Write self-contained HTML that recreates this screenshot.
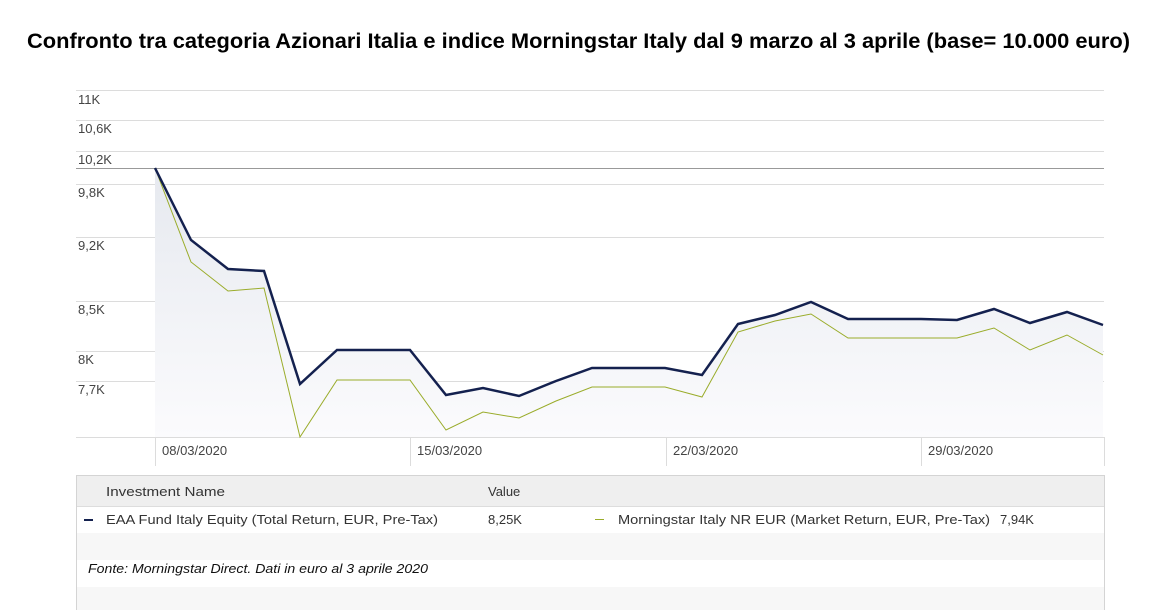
<!DOCTYPE html>
<html><head><meta charset="utf-8"><style>
body{margin:0;width:1155px;height:610px;background:#fff;overflow:hidden;font-family:"Liberation Sans",sans-serif}
</style></head><body>
<svg width="1155" height="610" xmlns="http://www.w3.org/2000/svg" style="position:absolute;left:0;top:0">
<defs><linearGradient id="g" x1="0" y1="0" x2="0" y2="1"><stop offset="0" stop-color="#e6e9ef"/><stop offset="1" stop-color="#fbfbfd"/></linearGradient></defs>
<text x="27" y="48" textLength="1103" lengthAdjust="spacingAndGlyphs" font-family="Liberation Sans, sans-serif" font-weight="bold" font-size="21" fill="#000">Confronto tra categoria Azionari Italia e indice Morningstar Italy dal 9 marzo al 3 aprile (base= 10.000 euro)</text>
<g stroke="#dcdcdc" stroke-width="1">
<line x1="76" x2="1104" y1="90.5" y2="90.5"/><line x1="76" x2="1104" y1="120.5" y2="120.5"/><line x1="76" x2="1104" y1="151.5" y2="151.5"/>
<line x1="76" x2="1104" y1="184.5" y2="184.5"/><line x1="76" x2="1104" y1="237.5" y2="237.5"/><line x1="76" x2="1104" y1="301.5" y2="301.5"/>
<line x1="76" x2="1104" y1="351.5" y2="351.5"/><line x1="76" x2="1104" y1="381.5" y2="381.5"/><line x1="76" x2="1104" y1="437.5" y2="437.5"/>
<line x1="155.5" x2="155.5" y1="437" y2="466"/><line x1="410.5" x2="410.5" y1="437" y2="466"/><line x1="666.5" x2="666.5" y1="437" y2="466"/><line x1="921.5" x2="921.5" y1="437" y2="466"/><line x1="1104.5" x2="1104.5" y1="437" y2="466"/>
</g>
<polygon fill="url(#g)" points="155,168 191,240 228,269 264,271 300,384 337,350 373,350 410,350 446,395 483,388 519,396 556,381 592,368 629,368 665,368 702,375 738,324 775,315 811,302 848,319 884,319 921,319 957,320 994,309 1030,323 1067,312 1103,325 1103,437 155,437"/>
<line x1="76" x2="1104" y1="168.5" y2="168.5" stroke="#999" stroke-width="1"/>
<g font-size="13" fill="#444" font-family="Liberation Sans, sans-serif">
<text x="78" y="104">11K</text><text x="78" y="133">10,6K</text><text x="78" y="164">10,2K</text><text x="78" y="197">9,8K</text><text x="78" y="250">9,2K</text><text x="78" y="314">8,5K</text><text x="78" y="364">8K</text><text x="78" y="394">7,7K</text>
<text x="162" y="455">08/03/2020</text><text x="417" y="455">15/03/2020</text><text x="673" y="455">22/03/2020</text><text x="928" y="455">29/03/2020</text>
</g>
<polyline fill="none" stroke="#9aac2a" stroke-width="1" points="155,168 191,262 228,291 264,288 300,437 337,380 373,380 410,380 446,430 483,412 519,418 556,401 592,387 629,387 665,387 702,397 738,332 775,321 811,314 848,338 884,338 921,338 957,338 994,328 1030,350 1067,335 1103,355"/>
<polyline fill="none" stroke="#14214f" stroke-width="2.5" points="155,168 191,240 228,269 264,271 300,384 337,350 373,350 410,350 446,395 483,388 519,396 556,381 592,368 629,368 665,368 702,375 738,324 775,315 811,302 848,319 884,319 921,319 957,320 994,309 1030,323 1067,312 1103,325"/>
<rect x="76.5" y="475.5" width="1028" height="140" fill="#fff" stroke="#d4d4d4"/>
<rect x="77" y="476" width="1027" height="30" fill="#efefef"/>
<line x1="77" x2="1104" y1="506.5" y2="506.5" stroke="#ddd"/>
<rect x="77" y="533" width="1027" height="27" fill="#f7f7f7"/>
<rect x="77" y="587" width="1027" height="23" fill="#f7f7f7"/>
<g font-size="13" fill="#333" font-family="Liberation Sans, sans-serif">
<text x="106" y="496" textLength="119" lengthAdjust="spacingAndGlyphs">Investment Name</text><text x="488" y="496">Value</text>
<text x="106" y="524" textLength="332" lengthAdjust="spacingAndGlyphs">EAA Fund Italy Equity (Total Return, EUR, Pre-Tax)</text><text x="488" y="524">8,25K</text>
<text x="618" y="524" textLength="372" lengthAdjust="spacingAndGlyphs">Morningstar Italy NR EUR (Market Return, EUR, Pre-Tax)</text><text x="1000" y="524">7,94K</text>
<text x="88" y="573" font-style="italic" fill="#111" textLength="340" lengthAdjust="spacingAndGlyphs">Fonte: Morningstar Direct. Dati in euro al 3 aprile 2020</text>
</g>
<rect x="84" y="519" width="9" height="2" fill="#14214f"/>
<rect x="595" y="519" width="9" height="1" fill="#9aac2a"/>
</svg>
</body></html>
